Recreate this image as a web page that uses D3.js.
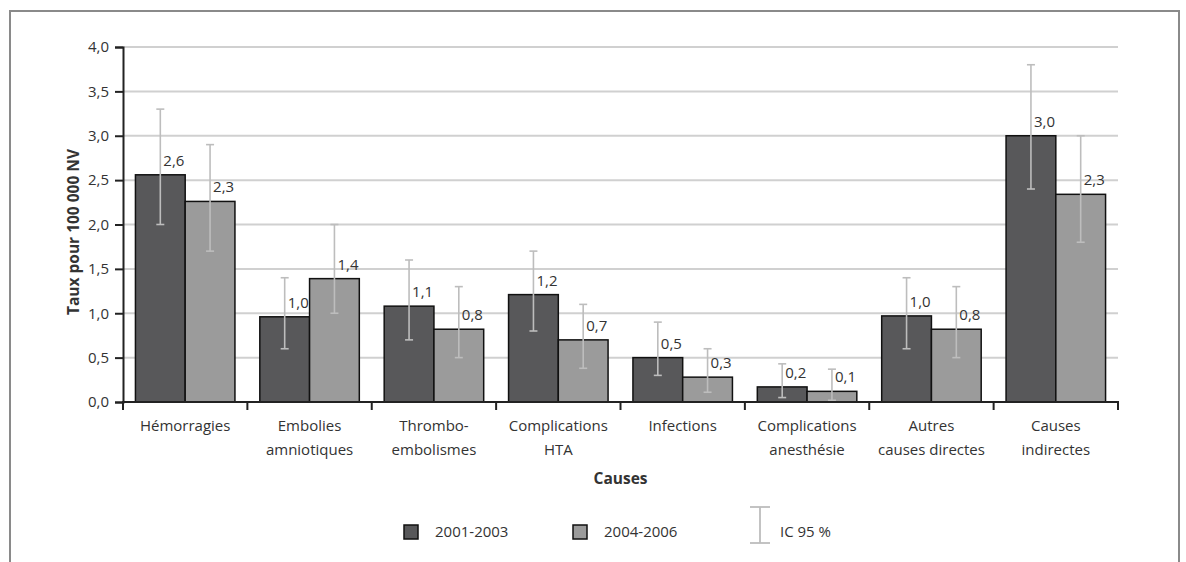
<!DOCTYPE html>
<html>
<head>
<meta charset="utf-8">
<script src="https://cdn.jsdelivr.net/npm/d3@7"></script>
<style>
  html, body { margin: 0; padding: 0; background: #fff; }
  svg { display: block; }
  text { font-family: "Open Sans", "DejaVu Sans", sans-serif; fill: #333; }
</style>
</head>
<body>
<svg id="chart" width="1186" height="562"></svg>
<script>
// Maternal mortality by cause, rate per 100 000 live births
const categories = [
  ["Hémorragies"],
  ["Embolies", "amniotiques"],
  ["Thrombo-", "embolismes"],
  ["Complications", "HTA"],
  ["Infections"],
  ["Complications", "anesthésie"],
  ["Autres", "causes directes"],
  ["Causes", "indirectes"]
];
const periods = ["2001-2003", "2004-2006"];
const rates2001 = [2.56, 0.96, 1.08, 1.21, 0.50, 0.17, 0.97, 3.00];
const rates2004 = [2.26, 1.39, 0.82, 0.70, 0.28, 0.12, 0.82, 2.34];
const ciLow2001 = [2.0, 0.6, 0.7, 0.8, 0.3, 0.05, 0.6, 2.4];
const ciHigh2001 = [3.3, 1.4, 1.6, 1.7, 0.9, 0.43, 1.4, 3.8];
const ciLow2004 = [1.7, 1.0, 0.5, 0.38, 0.11, 0.02, 0.5, 1.8];
const ciHigh2004 = [2.9, 2.0, 1.3, 1.1, 0.6, 0.37, 1.3, 3.0];
const yTicks = [0, 0.5, 1, 1.5, 2, 2.5, 3, 3.5, 4];
const yTitle = "Taux pour 100 000 NV";
const xTitle = "Causes";
const ciLabel = "IC 95 %";

const colors = ["#58585a", "#9b9b9b"];
const ciColor = "#bdbdbd";

const svg = d3.select("#chart");
const plotLeft = 123, plotRight = 1118, plotTop = 47, plotBottom = 402;

const keys = categories.map(c => c.join(" "));
const x0 = d3.scaleBand().domain(keys).range([plotLeft, plotRight]).paddingInner(0.2).paddingOuter(0.1);
const x1 = d3.scaleBand().domain(periods).range([0, x0.bandwidth()]);
const y = d3.scaleLinear().domain([0, 4]).range([plotBottom, plotTop]);

const fmt = v => d3.format(".1f")(v).replace(".", ",");

// outer frame
svg.append("path")
  .attr("d", `M10,562 V11 H1179 V562`)
  .attr("fill", "none").attr("stroke", "#8a8a8a").attr("stroke-width", 2);

// horizontal gridlines
svg.append("g").selectAll("line").data(yTicks.filter(t => t > 0)).join("line")
  .attr("x1", plotLeft).attr("x2", plotRight)
  .attr("y1", d => y(d)).attr("y2", d => y(d))
  .attr("stroke", "#d0d0d0").attr("stroke-width", 2);

// y axis
const yAxis = d3.axisLeft(y).tickValues(yTicks).tickSize(8).tickPadding(6).tickFormat(fmt);
const gy = svg.append("g").attr("transform", `translate(${plotLeft},0)`).call(yAxis);
gy.select(".domain").attr("stroke", "#222").attr("stroke-width", 2);
gy.selectAll(".tick line").attr("stroke", "#222").attr("stroke-width", 2);
gy.selectAll(".tick text").style("font-size", "15px").attr("fill", "#333")
  .style("font-family", "'Open Sans', sans-serif");

// series data
const series = categories.map((c, i) => ({
  key: keys[i],
  values: [
    { period: periods[0], v: rates2001[i], lo: ciLow2001[i], hi: ciHigh2001[i] },
    { period: periods[1], v: rates2004[i], lo: ciLow2004[i], hi: ciHigh2004[i] }
  ]
}));

const groups = svg.append("g").selectAll("g").data(series).join("g")
  .attr("transform", d => `translate(${x0(d.key)},0)`);

// bars
groups.selectAll("rect").data(d => d.values).join("rect")
  .attr("x", d => x1(d.period))
  .attr("y", d => y(d.v))
  .attr("width", x1.bandwidth())
  .attr("height", d => y(0) - y(d.v))
  .attr("fill", (d, i) => colors[i])
  .attr("stroke", "#111").attr("stroke-width", 1.5);

// confidence intervals
const ci = groups.selectAll("g.ci").data(d => d.values).join("g").attr("class", "ci")
  .attr("transform", d => `translate(${x1(d.period) + x1.bandwidth() / 2},0)`);
ci.append("line").attr("x1", 0).attr("x2", 0)
  .attr("y1", d => y(d.lo)).attr("y2", d => y(d.hi))
  .attr("stroke", ciColor).attr("stroke-width", 1.6);
ci.append("line").attr("x1", -4).attr("x2", 4)
  .attr("y1", d => y(d.hi)).attr("y2", d => y(d.hi))
  .attr("stroke", ciColor).attr("stroke-width", 1.6);
ci.append("line").attr("x1", -4).attr("x2", 4)
  .attr("y1", d => y(d.lo)).attr("y2", d => y(d.lo))
  .attr("stroke", ciColor).attr("stroke-width", 1.6);

// value labels
groups.selectAll("text.val").data(d => d.values).join("text").attr("class", "val")
  .attr("x", d => x1(d.period) + x1.bandwidth() / 2 + 3)
  .attr("y", d => y(d.v) - 9)
  .style("font-size", "15px")
  .text(d => fmt(d.v));

// x axis line and ticks at category boundaries
svg.append("line").attr("x1", plotLeft).attr("x2", plotRight).attr("y1", plotBottom).attr("y2", plotBottom)
  .attr("stroke", "#222").attr("stroke-width", 2);
const bounds = d3.range(categories.length + 1).map(i => plotLeft + i * x0.step());
svg.append("g").selectAll("line").data(bounds).join("line")
  .attr("x1", d => d).attr("x2", d => d).attr("y1", plotBottom - 1).attr("y2", plotBottom + 8)
  .attr("stroke", "#222").attr("stroke-width", 2);

// category labels
const catLabels = svg.append("g").selectAll("text").data(categories).join("text")
  .attr("text-anchor", "middle")
  .attr("transform", (d, i) => `translate(${x0(keys[i]) + x0.bandwidth() / 2},431)`)
  .style("font-size", "15px");
catLabels.selectAll("tspan").data(d => d).join("tspan")
  .attr("x", 0).attr("y", (d, i) => i * 24)
  .text(d => d);

// axis titles
svg.append("text").attr("text-anchor", "middle")
  .attr("transform", `translate(79,232) rotate(-90)`)
  .style("font-size", "15.5px").style("font-weight", "bold").attr("fill", "#222")
  .text(yTitle);
svg.append("text").attr("text-anchor", "middle")
  .attr("x", (plotLeft + plotRight) / 2).attr("y", 484)
  .style("font-size", "15.5px").style("font-weight", "bold").attr("fill", "#222")
  .text(xTitle);

// legend
const legend = svg.append("g");
const legendX = [404, 573];
periods.forEach((p, i) => {
  legend.append("rect").attr("x", legendX[i]).attr("y", 525).attr("width", 14).attr("height", 14)
    .attr("fill", colors[i]).attr("stroke", "#111").attr("stroke-width", 1.5);
  legend.append("text").attr("x", legendX[i] + 31).attr("y", 537)
    .style("font-size", "15px").text(p);
});
const ciX = 760;
legend.append("line").attr("x1", ciX).attr("x2", ciX).attr("y1", 507).attr("y2", 543)
  .attr("stroke", ciColor).attr("stroke-width", 1.8);
legend.append("line").attr("x1", ciX - 10).attr("x2", ciX + 10).attr("y1", 507).attr("y2", 507)
  .attr("stroke", ciColor).attr("stroke-width", 1.8);
legend.append("line").attr("x1", ciX - 10).attr("x2", ciX + 10).attr("y1", 543).attr("y2", 543)
  .attr("stroke", ciColor).attr("stroke-width", 1.8);
legend.append("text").attr("x", 780).attr("y", 537).style("font-size", "15px").text(ciLabel);
</script>
</body>
</html>
